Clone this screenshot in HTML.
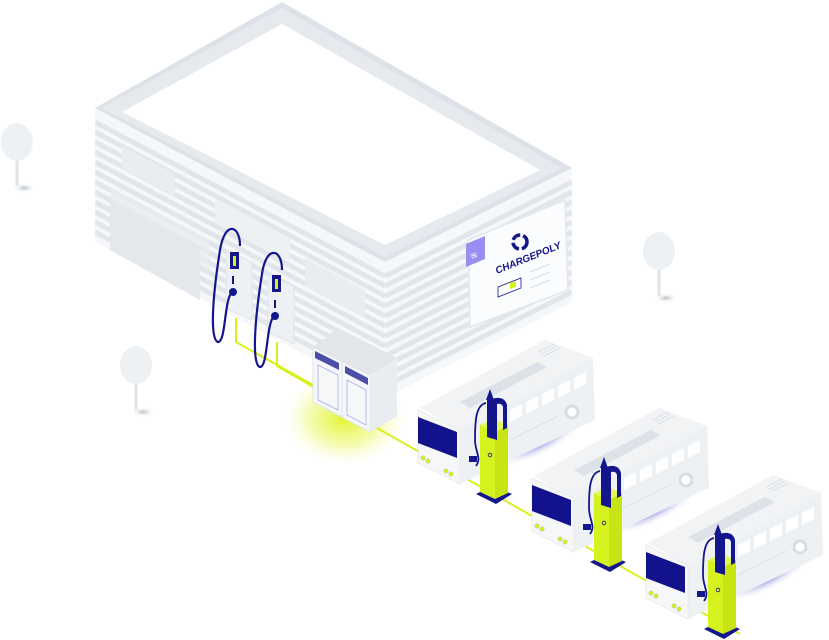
<!DOCTYPE html>
<html><head><meta charset="utf-8"><style>
html,body{margin:0;padding:0;background:#fff;width:829px;height:640px;overflow:hidden}
svg{display:block}
</style></head><body>
<svg width="829" height="640" viewBox="0 0 829 640" xmlns="http://www.w3.org/2000/svg">
<defs>
<radialGradient id="glow" cx="50%" cy="50%" r="50%">
<stop offset="0" stop-color="#e2f52a" stop-opacity="1"/>
<stop offset="0.55" stop-color="#eef87a" stop-opacity="0.6"/>
<stop offset="1" stop-color="#ffffff" stop-opacity="0"/>
</radialGradient>
<radialGradient id="shd" cx="50%" cy="50%" r="50%">
<stop offset="0" stop-color="#4b46c4" stop-opacity="0.85"/>
<stop offset="1" stop-color="#ffffff" stop-opacity="0"/>
</radialGradient>
<radialGradient id="tshd" cx="50%" cy="50%" r="50%">
<stop offset="0" stop-color="#b8bec6"/>
<stop offset="1" stop-color="#ffffff" stop-opacity="0"/>
</radialGradient>
<clipPath id="lw"><polygon points="95,108 385,262 385,398 95,242"/></clipPath>
<clipPath id="rw"><polygon points="385,262 572,168 572,302 385,398"/></clipPath>
</defs>

<ellipse cx="24" cy="188" rx="12" ry="5" fill="url(#tshd)"/>
<line x1="17" y1="155" x2="17" y2="186" stroke="#dfe3e8" stroke-width="3"/>
<ellipse cx="17" cy="142" rx="16" ry="19" fill="#eef1f4"/>
<ellipse cx="143" cy="412" rx="12" ry="5" fill="url(#tshd)"/>
<line x1="136" y1="378" x2="136" y2="410" stroke="#dfe3e8" stroke-width="3"/>
<ellipse cx="136" cy="365" rx="16" ry="19" fill="#eef1f4"/>
<ellipse cx="666" cy="298" rx="12" ry="5" fill="url(#tshd)"/>
<line x1="659" y1="265" x2="659" y2="296" stroke="#dfe3e8" stroke-width="3"/>
<ellipse cx="659" cy="251" rx="16" ry="19" fill="#eef1f4"/>

<ellipse cx="345" cy="418" rx="65" ry="50" fill="url(#glow)"/>

<polygon points="95,108 385,262 385,398 95,242" fill="#f6f7f9"/>
<polygon points="385,262 572,168 572,302 385,398" fill="#f6f7f9"/>
<g clip-path="url(#lw)" stroke="#e1e6eb" stroke-width="5">
<line x1="95" y1="122" x2="385" y2="276"/><line x1="95" y1="132" x2="385" y2="286"/>
<line x1="95" y1="142" x2="385" y2="296"/><line x1="95" y1="152" x2="385" y2="306"/>
<line x1="95" y1="162" x2="385" y2="316"/><line x1="95" y1="172" x2="385" y2="326"/>
<line x1="95" y1="182" x2="385" y2="336"/><line x1="95" y1="192" x2="385" y2="346"/>
<line x1="95" y1="202" x2="385" y2="356"/><line x1="95" y1="212" x2="385" y2="366"/>
<line x1="95" y1="222" x2="385" y2="376"/><line x1="95" y1="232" x2="385" y2="386"/>
</g>
<g clip-path="url(#rw)" stroke="#e1e6eb" stroke-width="5">
<line x1="385" y1="276" x2="572" y2="182"/><line x1="385" y1="286" x2="572" y2="192"/>
<line x1="385" y1="296" x2="572" y2="202"/><line x1="385" y1="306" x2="572" y2="212"/>
<line x1="385" y1="316" x2="572" y2="222"/><line x1="385" y1="326" x2="572" y2="232"/>
<line x1="385" y1="336" x2="572" y2="242"/><line x1="385" y1="346" x2="572" y2="252"/>
<line x1="385" y1="356" x2="572" y2="262"/><line x1="385" y1="366" x2="572" y2="272"/>
<line x1="385" y1="376" x2="572" y2="282"/><line x1="385" y1="386" x2="572" y2="292"/>
</g>
<polygon points="110,188 210,240 210,270 110,218" fill="#e8ecf0" opacity="0.8"/>
<polygon points="110,200 200,247 200,300 110,250" fill="#e4e8ed"/>
<polygon points="122,146 175,174 175,196 122,168" fill="#e9edf1"/>
<polygon points="215,198 290,238 290,262 215,222" fill="#eef1f4"/>
<polygon points="305,258 365,290 365,318 305,286" fill="#e9edf1"/>

<polygon points="282,2 572,168 385,262 95,108" fill="#dde2e8"/>
<polygon points="282,8 562,168 385,257 102,108" fill="#e6eaee"/>
<polygon points="282,24 540,170 385,245 122,112" fill="#ffffff"/>

<polygon points="468,240 565,200 568,290 470,327" fill="#fbfcfd" stroke="#e3e7ec" stroke-width="1.5"/>
<polygon points="466,244 485,236 485,259 466,267" fill="#9a8ff0"/>
<text x="470" y="258" font-family="Liberation Sans, sans-serif" font-size="9" fill="#fff" transform="rotate(-22 475 255)">≋</text>
<circle cx="520" cy="242" r="7" fill="none" stroke="#14168c" stroke-width="3.5" stroke-dasharray="9 3"/>
<text x="497" y="274" font-family="Liberation Sans, sans-serif" font-weight="bold" font-style="italic" font-size="10" fill="#14168c" transform="rotate(-22 497 274)">CHARGEPOLY</text>
<polygon points="498,287 521,278 521,288 498,297" fill="#fff" stroke="#14168c" stroke-width="0.8"/>
<polygon points="510,283 516,281 516,287 510,289" fill="#d6f21e"/>
<g stroke="#e3e7ec" stroke-width="1.5"><line x1="530" y1="272" x2="550" y2="264"/><line x1="530" y1="280" x2="550" y2="272"/><line x1="530" y1="288" x2="550" y2="280"/></g>

<g stroke="#d8f01c" stroke-width="2" fill="none">
<polyline points="236,318 236,342 322,390"/>
<polyline points="277,342 277,366 322,392"/>
<line x1="370" y1="424" x2="740" y2="634"/>
</g>

<g>
<polygon points="226,250 252,262 252,320 226,308" fill="#eef1f4" stroke="#e0e4e9"/>
<rect x="230" y="252" width="9" height="17" fill="#14168c"/><rect x="233" y="256" width="3" height="10" fill="#d6f21e"/>
<rect x="232" y="276" width="2" height="8" fill="#14168c"/>
<path d="M240,246 C240,225 225,220 220,250 C212,300 210,340 218,342 C226,342 224,300 232,292" stroke="#14168c" stroke-width="2.2" fill="none"/>
<circle cx="233" cy="292" r="4" fill="#14168c"/>
<polygon points="268,274 294,286 294,344 268,332" fill="#eef1f4" stroke="#e0e4e9"/>
<rect x="272" y="275" width="9" height="17" fill="#14168c"/><rect x="275" y="279" width="3" height="10" fill="#d6f21e"/>
<rect x="274" y="300" width="2" height="8" fill="#14168c"/>
<path d="M282,270 C282,248 266,245 262,274 C254,324 252,365 260,367 C268,367 266,324 274,316" stroke="#14168c" stroke-width="2.2" fill="none"/>
<circle cx="275" cy="316" r="4" fill="#14168c"/>
</g>

<polygon points="313,347 338,328 397,358 370,375" fill="#e2e6eb"/>
<polygon points="313,347 370,375 370,432 313,402" fill="#f6f7f9" stroke="#e0e4e9"/>
<polygon points="370,375 397,358 397,416 370,432" fill="#e9ecf0"/>
<line x1="342" y1="362" x2="342" y2="417" stroke="#dfe3e8"/>
<polygon points="315,351 339,363 339,370 315,358" fill="#14168c" opacity="0.75"/>
<polygon points="345,366 368,378 368,385 345,373" fill="#14168c" opacity="0.75"/>
<polygon points="318,365 338,375 338,410 318,400" fill="none" stroke="#a9a8e8" stroke-width="0.8"/>
<polygon points="347,380 366,390 366,425 347,415" fill="none" stroke="#a9a8e8" stroke-width="0.8"/>

<g id="bus">
<ellipse cx="540" cy="442" rx="50" ry="13" fill="url(#shd)" transform="rotate(-27 540 442)"/>
<polygon points="420,408 545,340 593,358 460,430" fill="#f1f3f5"/>
<polygon points="460,402 537,362 547,367 470,408" fill="#dde2e8"/>
<g stroke="#dde2e8" stroke-width="1"><line x1="538" y1="352" x2="554" y2="344"/><line x1="541" y1="354" x2="557" y2="346"/><line x1="544" y1="356" x2="560" y2="348"/></g>
<polygon points="460,430 593,358 595,420 460,484" fill="#eef1f4"/>
<g fill="#fff"><polygon points="510,410 522,404 522,416 510,422"/><polygon points="526,402 538,396 538,408 526,414"/><polygon points="542,394 554,388 554,400 542,406"/><polygon points="558,386 570,380 570,392 558,398"/><polygon points="574,378 586,372 586,384 574,390"/></g>
<line x1="510" y1="440" x2="558" y2="416" stroke="#dde2e8"/>
<circle cx="572" cy="412" r="6" fill="#fff" stroke="#d9dde3" stroke-width="3"/>
<polygon points="418,410 460,430 460,484 418,463" fill="#f6f7f9" stroke="#e3e7ec" stroke-width="0.8"/>
<polygon points="418,417 457,432 457,458 418,443" fill="#12128c"/>
<circle cx="423" cy="458" r="2.2" fill="#d6f21e" stroke="#bbb" stroke-width="0.5"/><circle cx="428" cy="461" r="2.2" fill="#d6f21e" stroke="#bbb" stroke-width="0.5"/>
<circle cx="446" cy="471" r="2.2" fill="#d6f21e" stroke="#bbb" stroke-width="0.5"/><circle cx="451" cy="474" r="2.2" fill="#d6f21e" stroke="#bbb" stroke-width="0.5"/>
<polygon points="476,494 496,504 512,494 492,486" fill="#14168c"/>
<polygon points="480,425 495,432 495,499 480,492" fill="#d6f21e"/>
<polygon points="495,432 508,425 508,493 495,499" fill="#c9e415"/>
<polygon points="480,425 493,419 508,425 495,432" fill="#e3f75a"/>
<path d="M487,437 L487,400 L496,398 Q505,397 507,405 L507,428 L503,430 L503,407 Q502,403 497,404 L497,440 Z" fill="#14168c"/>
<polygon points="486,400 490,389 494,400" fill="#14168c"/>
<path d="M486,403 C476,405 475,420 475,440 C475,452 482,458 476,466" stroke="#14168c" stroke-width="1.8" fill="none"/>
<rect x="469" y="456" width="8" height="6" fill="#14168c"/>
<circle cx="490" cy="455" r="1.8" fill="none" stroke="#14168c" stroke-width="0.8"/>
</g>
<use href="#bus" transform="translate(114,68)"/>
<use href="#bus" transform="translate(228,135)"/>
</svg>
</body></html>
